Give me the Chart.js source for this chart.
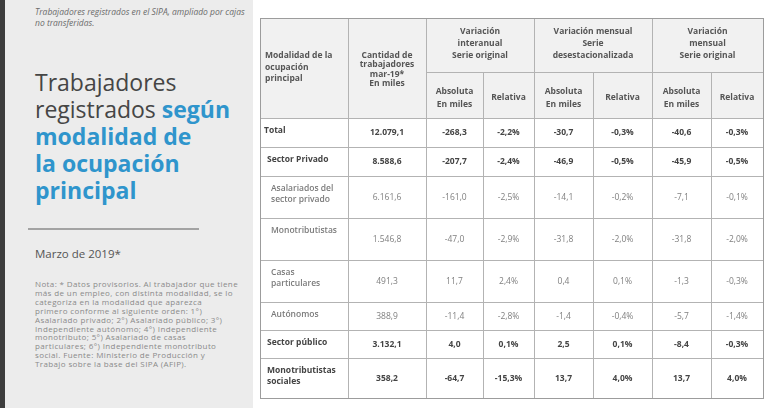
<!DOCTYPE html>
<html lang="es">
<head>
<meta charset="utf-8">
<script src="https://cdn.jsdelivr.net/npm/chart.js@4.4.1/dist/chart.umd.min.js"></script>
<style>
  body { margin: 0; width: 768px; height: 408px; overflow: hidden; background: #fff; position: relative; font-family: "Open Sans", sans-serif; }
  #panel { position: absolute; left: 0; top: 0; width: 253px; height: 408px; background: #ececec; border-left: 5px solid #3d3d3d; box-sizing: border-box; }
  #panel div { position: absolute; left: 30px; white-space: nowrap; }
  #bajada { top: 7px; font-size: 8.5px; line-height: 10.6px; font-style: italic; color: #6b6b6b; }
  #titulo { top: 69px; font-size: 23px; line-height: 27px; color: #454545; }
  #titulo b { color: #2f95cc; font-weight: 700; }
  #regla { top: 228px; left: 23px !important; width: 171px; height: 2px; background: #a3a3a3; }
  #fecha { top: 247px; font-size: 11.5px; line-height: 14px; color: #555; }
  #nota { top: 280px; font-size: 8px; letter-spacing: 0.38px; line-height: 8.9px; color: #8a8a8a; }
  #wrap { position: absolute; left: 253px; top: 0; width: 515px; height: 408px; }
</style>
</head>
<body>
<div id="panel">
  <div id="bajada">Trabajadores registrados en el SIPA, ampliado por cajas<br>no transferidas.</div>
  <div id="titulo">Trabajadores<br>registrados <b>según</b><br><b>modalidad de</b><br><b>la ocupación</b><br><b>principal</b></div>
  <div id="regla"></div>
  <div id="fecha">Marzo de 2019*</div>
  <div id="nota">Nota: * Datos provisorios. Al trabajador que tiene<br>más de un empleo, con distinta modalidad, se lo<br>categoriza en la modalidad que aparezca<br>primero conforme al siguiente orden: 1°)<br>Asalariado privado; 2°) Asalariado público; 3°)<br>Independiente autónomo; 4°) Independiente<br>monotributo; 5°) Asalariado de casas<br>particulares; 6°) Independiente monotributo<br>social. Fuente: Ministerio de Producción y<br>Trabajo sobre la base del SIPA (AFIP).</div>
</div>
<div id="wrap"><canvas id="tabla"></canvas></div>
<script>
// filas de la tabla
const categorias = ['Total', 'Sector Privado', 'Asalariados del\nsector privado', 'Monotributistas',
    'Casas\nparticulares', 'Autónomos', 'Sector público', 'Monotributistas\nsociales'];
const nivel = [0, 1, 2, 2, 2, 2, 1, 1];

// valores (miles de trabajadores y %)
const cantidad = [12079.1, 8588.6, 6161.6, 1546.8, 491.3, 388.9, 3132.1, 358.2];
const interanualAbs = [-268.3, -207.7, -161.0, -47.0, 11.7, -11.4, 4.0, -64.7];
const interanualRel = [-2.2, -2.4, -2.5, -2.9, 2.4, -2.8, 0.1, -15.3];
const desestAbs = [-30.7, -46.9, -14.1, -31.8, 0.4, -1.4, 2.5, 13.7];
const desestRel = [-0.3, -0.5, -0.2, -2.0, 0.1, -0.4, 0.1, 4.0];
const mensualAbs = [-40.6, -45.9, -7.1, -31.8, -1.3, -5.7, -8.4, 13.7];
const mensualRel = [-0.3, -0.5, -0.1, -2.0, -0.3, -1.4, -0.3, 4.0];

// encabezados
const encModalidad = ['Modalidad de la', 'ocupación', 'principal'];
const encCantidad = ['Cantidad de', 'trabajadores', 'mar-19*', 'En miles'];
const encGrupos = [
    ['Variación', 'interanual', 'Serie original'],
    ['Variación mensual', 'Serie', 'desestacionalizada'],
    ['Variación', 'mensual', 'Serie original']
];
const encAbsoluta = ['Absoluta', 'En miles'];
const encRelativa = ['Relativa'];

// layout de la grilla (unidades de escala = px)
const bordesCol = [0, 88, 166, 223, 274, 333, 392, 451, 503];
const bordesFila = [0, 54, 100, 129, 158, 200, 242, 284, 312, 340, 380];

function formatNumero(v) {
    const neg = v < 0;
    const partes = Math.abs(v).toFixed(1).split('.');
    const entero = partes[0].replace(/\B(?=(\d{3})+(?!\d))/g, '.');
    return (neg ? '-' : '') + entero + ',' + partes[1];
}

function lineas(ctx, textos, x, yCentro, alto) {
    const y0 = yCentro - (textos.length - 1) * alto / 2;
    textos.forEach((t, i) => ctx.fillText(t, x, y0 + i * alto));
}

const columnas = [cantidad, interanualAbs, interanualRel, desestAbs, desestRel, mensualAbs, mensualRel];
const esPorcentaje = [false, false, true, false, true, false, true];

const dibujarTabla = {
    id: 'dibujarTabla',
    afterDraw(chart) {
        const ctx = chart.ctx;
        const xs = chart.scales.x, ys = chart.scales.y;
        const px = v => Math.round(xs.getPixelForValue(v)) + 0.5;
        const py = v => Math.round(ys.getPixelForValue(v)) + 0.5;
        const fin = bordesCol[bordesCol.length - 1];
        const base = bordesFila[bordesFila.length - 1];

        ctx.save();
        // fondo del encabezado
        ctx.fillStyle = '#f1f1f1';
        ctx.fillRect(px(0), py(0), px(fin) - px(0), py(bordesFila[2]) - py(0));

        // grilla
        ctx.strokeStyle = '#b3b3b3';
        ctx.lineWidth = 1;
        ctx.beginPath();
        bordesFila.forEach((f, i) => {
            const desde = i === 1 ? bordesCol[2] : 0;
            ctx.moveTo(px(desde), py(f));
            ctx.lineTo(px(fin), py(f));
        });
        bordesCol.forEach((c, i) => {
            const desde = (i === 3 || i === 5 || i === 7) ? bordesFila[1] : 0;
            ctx.moveTo(px(c), py(desde));
            ctx.lineTo(px(c), py(base));
        });
        ctx.stroke();

        ctx.textBaseline = 'middle';
        const medio = (a, b, s) => (s.getPixelForValue(a) + s.getPixelForValue(b)) / 2;

        // encabezados
        ctx.fillStyle = '#555';
        ctx.font = 'bold 8.5px "Open Sans"';
        ctx.textAlign = 'left';
        lineas(ctx, encModalidad, xs.getPixelForValue(0) + 5, medio(0, 100, ys) - 0.5, 11.5);
        ctx.textAlign = 'center';
        lineas(ctx, encCantidad, medio(bordesCol[1], bordesCol[2], xs), medio(0, 100, ys) + 1.5, 9.3);
        encGrupos.forEach((g, k) => {
            const c0 = bordesCol[2 + k * 2], c1 = bordesCol[4 + k * 2], cm = bordesCol[3 + k * 2];
            lineas(ctx, g, medio(c0, c1, xs), medio(0, 54, ys) - 1.5, 12.2);
            lineas(ctx, encAbsoluta, medio(c0, cm, xs), medio(54, 100, ys) + 3, 12.3);
            lineas(ctx, encRelativa, medio(cm, c1, xs), medio(54, 100, ys) + 3, 12.3);
        });

        // filas
        categorias.forEach((cat, i) => {
            const f0 = bordesFila[i + 2], f1 = bordesFila[i + 3];
            const destacada = nivel[i] < 2;
            ctx.textAlign = 'left';
            ctx.fillStyle = destacada ? '#444' : '#7a7a7a';
            ctx.font = (destacada ? 'bold' : '600') + ' 8.5px "Open Sans"';
            const sangria = [4, 7, 11][nivel[i]];
            const textos = cat.split('\n');
            textos.forEach((t, j) => ctx.fillText(t, xs.getPixelForValue(0) + sangria, ys.getPixelForValue(f0) + 12.5 + j * 11.3));

            ctx.textAlign = 'center';
            ctx.fillStyle = destacada ? '#444' : '#808080';
            ctx.font = (destacada ? 'bold' : 'normal') + ' 8.5px "Open Sans"';
            columnas.forEach((serie, c) => {
                const txt = formatNumero(serie[i]) + (esPorcentaje[c] ? '%' : '');
                ctx.fillText(txt, medio(bordesCol[c + 1], bordesCol[c + 2], xs), medio(f0, f1, ys) + 0.5);
            });
        });

        // borde exterior
        ctx.strokeStyle = '#9c9c9c';
        ctx.strokeRect(px(0), py(0), px(fin) - px(0), py(base) - py(0));
        ctx.restore();
    }
};

new Chart(document.getElementById('tabla'), {
    type: 'scatter',
    data: { datasets: [] },
    options: {
        responsive: true,
        maintainAspectRatio: false,
        animation: false,
        events: [],
        layout: { padding: { left: 7, top: 18, right: 5, bottom: 10 } },
        scales: {
            x: { type: 'linear', display: false, min: 0, max: bordesCol[bordesCol.length - 1] },
            y: { type: 'linear', display: false, min: 0, max: bordesFila[bordesFila.length - 1], reverse: true }
        },
        plugins: { legend: { display: false }, tooltip: { enabled: false } }
    },
    plugins: [dibujarTabla]
});
</script>
</body>
</html>
